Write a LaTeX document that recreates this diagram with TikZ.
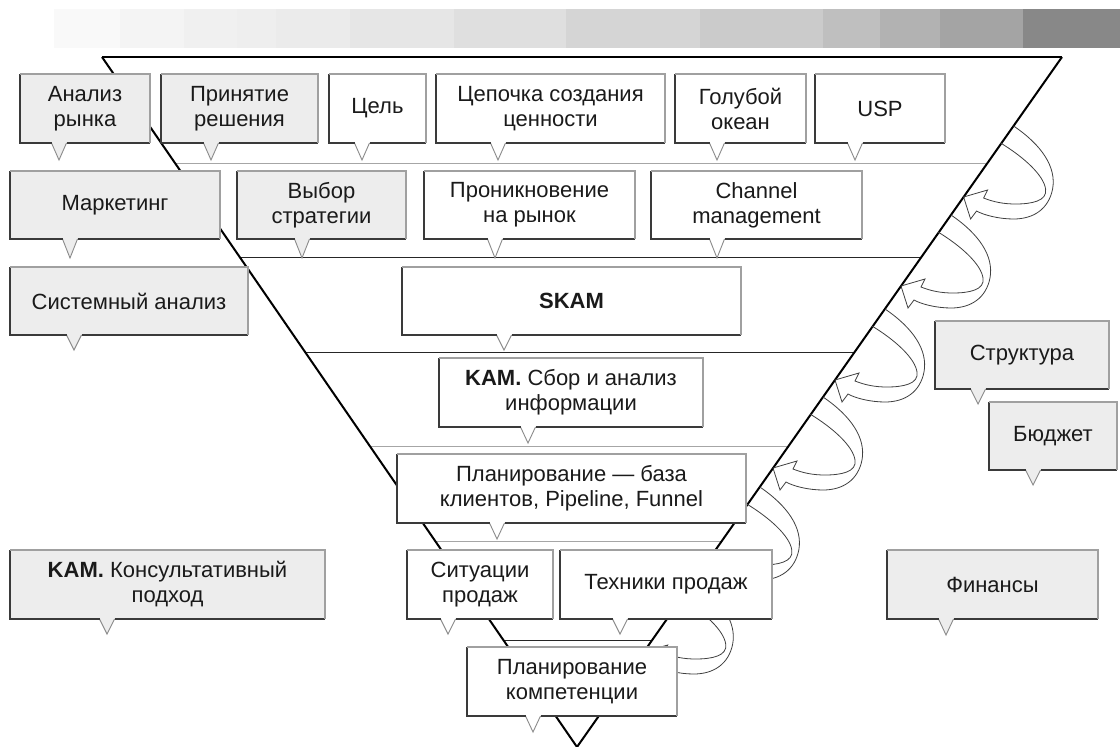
\documentclass[tikz,border=0pt]{standalone}
\usepackage{fontspec}
\setmainfont{Liberation Sans}
\definecolor{boxgray}{HTML}{EDEDED}
\definecolor{edgedark}{HTML}{3A3A3A}
\definecolor{edgelight}{HTML}{A0A0A0}
\definecolor{ptrgray}{HTML}{8A8A8A}
\definecolor{txt}{HTML}{1A1A1A}
\tikzset{
  boxtext/.style={draw=none, outer sep=0pt, inner sep=2pt, align=center,
    text=txt, font=\fontsize{22}{25}\selectfont},
  darkedge/.style={draw=edgedark, line width=1.1pt},
  lightedge/.style={draw=edgelight, line width=1.1pt},
  ptrline/.style={draw=ptrgray, line width=0.9pt},
  funnel/.style={draw=black, line width=2pt, line join=miter},
  seplight/.style={draw=black!35, line width=1pt},
  sepdark/.style={draw=black!85, line width=1pt},
  arrowline/.style={draw=black!75, line width=0.8pt},
  curlarrow/.pic={
    \draw[arrowline] (50,-71) .. controls (78,-52) and (93,-30) .. (89,-8)
      .. controls (85,12) and (70,22) .. (50,22)
      .. controls (35,22) and (20,18) .. (13,14) -- (7,22) -- (0,0) -- (24,-7) -- (20,1)
      .. controls (30,5) and (40,7) .. (52,7)
      .. controls (68,7) and (84,4) .. (82,-8)
      .. controls (80,-22) and (60,-40) .. (37,-54);
  }
}
% name, x1, y1, x2, y2, tipx, tipy, fill, text
\newcommand\cbox[9]{%
  \node[boxtext, fill=#8, minimum width={(#4-#2)*1pt}, minimum height={(#5-#3)*1pt}]
    (#1) at ({(#2+#4)/2},{(#3+#5)/2}) {#9};
  \fill[#8] (#6-7.5,#5-0.6) -- (#6,#7) -- (#6+7.5,#5-0.6) -- cycle;
  \draw[ptrline] (#6-7.5,#5) -- (#6,#7) -- (#6+7.5,#5);
  \draw[darkedge] (#1.north west) -- (#1.south west) -- (#6-7.5,#5) (#6+7.5,#5) -- (#1.south east);
  \draw[lightedge] (#1.north west) -- (#1.north east) -- (#1.south east);
}
\begin{document}
\begin{tikzpicture}[x=1pt,y=-1pt]
\useasboundingbox (0,0) rectangle (1120,747);
\fill[white] (0,0) rectangle (1120,747);
% stepped gradient bar
\foreach \xa/\xb/\p in {54/120/2.4,120/184/4.3,184/237/5.9,237/276/6.7,276/350/7.8,350/454/9.8,454/566/12.5,566/700/16.5,700/823/20.4,823/880/25.1,880/940/30.2,940/1023/35.7,1023/1120/46.7}
  \fill[black!\p] (\xa,9) rectangle (\xb,48);
% funnel corners
\coordinate (TL) at (102,57);
\coordinate (TR) at (1062,57);
\coordinate (TB) at (577,747);
% level separators
\draw[seplight] (174.9,163) -- (987.5,163);
\draw[sepdark] (239.6,257) -- (921.4,257);
\draw[sepdark] (305,352) -- (854.6,352);
\draw[seplight] (369.6,446) -- (788.5,446);
\draw[seplight] (435,541) -- (721.7,541);
\draw[sepdark] (503.1,640) -- (652.2,640);
% funnel outline
\draw[funnel] (TB) -- (TL);
\draw[funnel] (TB) -- (TR);
\draw[draw=black, line width=1.6pt] (TL) -- (TR);
% curved arrows along the right side
\pic at (963.6,197) {curlarrow};
\pic at (901,286) {curlarrow};
\pic at (835,380) {curlarrow};
\pic at (773,468) {curlarrow};
\pic at (709.8,558) {curlarrow};
\pic at (643.7,652) {curlarrow};
% row 1
\cbox{an}{20}{74}{150}{143}{59}{160}{boxgray}{Анализ\\рынка}
\cbox{pr}{161}{74}{318}{143}{211}{160}{boxgray}{Принятие\\решения}
\cbox{cel}{329}{74}{426}{143}{362}{160}{white}{Цель}
\cbox{cep}{436}{74}{665}{143}{498}{160}{white}{Цепочка создания\\ценности}
\cbox{go}{675}{74}{806}{143}{717}{160}{white}{Голубой\\океан}
\cbox{usp}{815}{74}{945}{143}{855}{160}{white}{USP}
% row 2
\cbox{mk}{10}{171}{220}{239}{70}{258}{boxgray}{Маркетинг}
\cbox{vs}{237}{171}{406}{239}{302}{258}{boxgray}{Выбор\\стратегии}
\cbox{pn}{424}{171}{635}{239}{495}{258}{white}{Проникновение\\на рынок}
\cbox{cm}{651}{171}{862}{239}{717}{258}{white}{Channel\\management}
% row 3
\cbox{sa}{10}{267}{248}{335}{74}{350}{boxgray}{Системный анализ}
\cbox{skam}{402}{267}{741}{335}{504}{350}{white}{\bfseries SKAM}
\cbox{str}{935}{321}{1109}{389}{978}{404}{boxgray}{Структура}
\cbox{bud}{989}{402}{1117}{470}{1033}{485}{boxgray}{Бюджет}
% row 4, 5
\cbox{kam}{439}{358}{703}{427}{528}{443}{white}{{\bfseries KAM.} Сбор и анализ\\информации}
\cbox{pb}{397}{454}{746}{523}{497}{539}{white}{Планирование — база\\клиентов, Pipeline, Funnel}
% row 6
\cbox{kk}{10}{550}{325}{619}{107}{634}{boxgray}{{\bfseries KAM.} Консультативный\\подход}
\cbox{sp}{407}{550}{553}{619}{448}{634}{white}{Ситуации\\продаж}
\cbox{tp}{560}{550}{772}{619}{620}{634}{white}{Техники продаж}
\cbox{fin}{887}{550}{1098}{619}{946}{635}{boxgray}{Финансы}
% row 7
\cbox{pk}{467}{647}{677}{716}{533}{732}{white}{Планирование\\компетенции}
\end{tikzpicture}
\end{document}
